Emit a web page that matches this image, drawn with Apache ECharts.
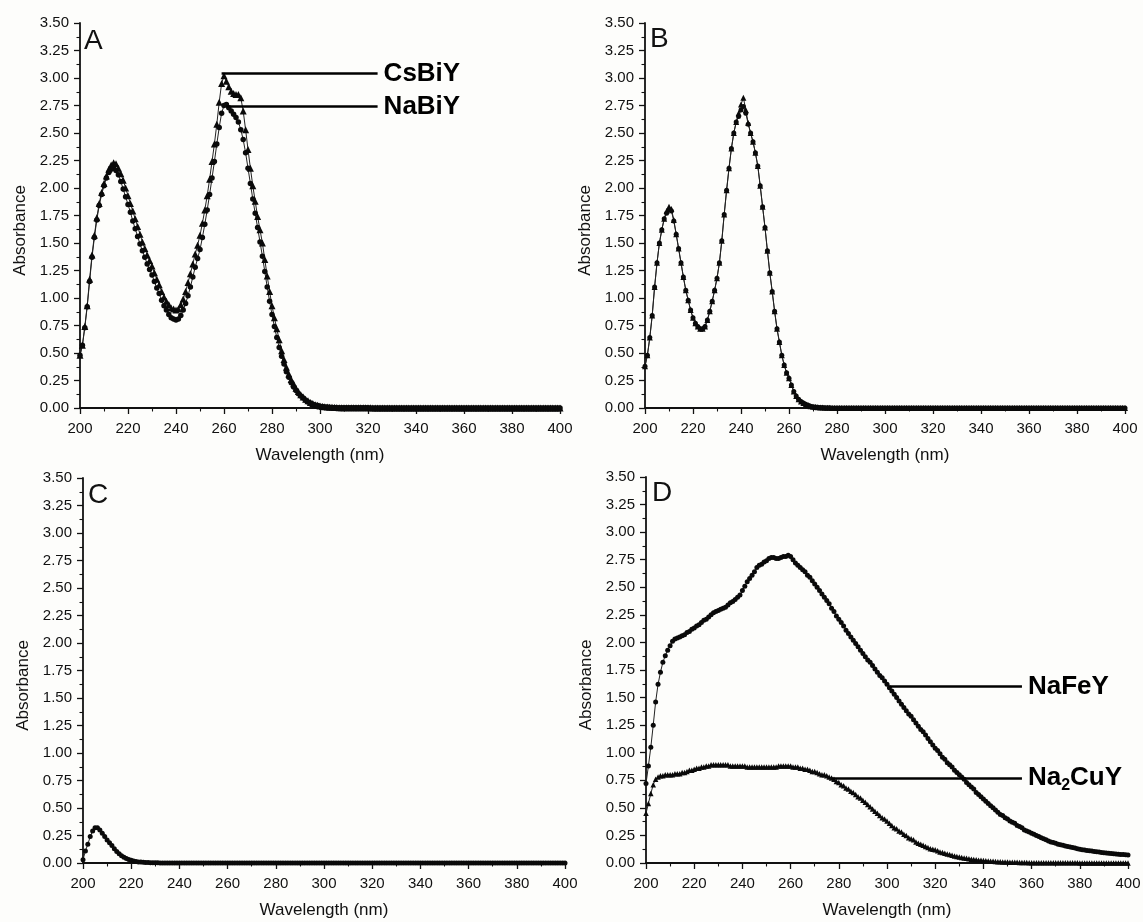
<!DOCTYPE html>
<html><head><meta charset="utf-8">
<script src="https://cdn.jsdelivr.net/npm/echarts@6.0.0/dist/echarts.min.js"></script>
<style>html,body{margin:0;padding:0;background:#fdfdfb;}#chart{width:1143px;height:922px;}</style>
</head><body><div id="chart"></div>
<script>
// wavelength grid of every series: 200..400 nm, 1 nm step
const WL_START = 200, WL_STEP = 1;
const xTickLabels = [200,220,240,260,280,300,320,340,360,380,400];
const yTickLabels = ['0.00','0.25','0.50','0.75','1.00','1.25','1.50','1.75','2.00','2.25','2.50','2.75','3.00','3.25','3.50'];

// Panel A
const A_CsBiY = [
0.48,0.57,0.74,0.93,1.17,1.39,1.57,1.73,1.86,1.96,
2.04,2.11,2.17,2.21,2.23,2.22,2.18,2.13,2.07,2.00,
1.93,1.86,1.79,1.72,1.65,1.58,1.51,1.45,1.39,1.34,
1.29,1.23,1.17,1.12,1.06,1.01,0.97,0.94,0.91,0.90,
0.89,0.90,0.94,0.99,1.06,1.14,1.22,1.31,1.40,1.48,
1.57,1.68,1.80,1.93,2.08,2.24,2.40,2.58,2.78,2.95,
3.02,2.97,2.92,2.88,2.86,2.85,2.85,2.82,2.70,2.53,
2.35,2.18,2.02,1.88,1.74,1.62,1.50,1.35,1.20,1.06,
0.93,0.82,0.72,0.62,0.52,0.44,0.37,0.31,0.26,0.22,
0.18,0.15,0.12,0.10,0.08,0.065,0.05,0.04,0.03,0.024,
0.018,0.014,0.011,0.009,0.007,0.006,0.005,0.004,0.003,0.003,
0.002,0.002,0.002,0.002,0.002,0.002,0.002,0.002,0.002,0.002,
0.002,0.002,0.001,0.001,0.001,0.001,0.001,0.001,0.001,0.001,
0.001,0.001,0.001,0.001,0.001,0.001,0.001,0.001,0.001,0.001,
0,0,0,0,0,0,0,0,0,0,
0,0,0,0,0,0,0,0,0,0,
0,0,0,0,0,0,0,0,0,0,
0,0,0,0,0,0,0,0,0,0,
0,0,0,0,0,0,0,0,0,0,
0,0,0,0,0,0,0,0,0,0,
0];
const A_NaBiY = [
0.48,0.57,0.73,0.92,1.15,1.37,1.55,1.71,1.84,1.94,
2.02,2.09,2.14,2.17,2.18,2.16,2.12,2.06,1.99,1.92,
1.85,1.78,1.70,1.63,1.56,1.49,1.43,1.37,1.31,1.26,
1.21,1.15,1.09,1.04,0.98,0.93,0.89,0.85,0.82,0.81,
0.80,0.81,0.84,0.89,0.95,1.02,1.10,1.19,1.28,1.36,
1.44,1.55,1.67,1.80,1.94,2.09,2.24,2.40,2.55,2.68,
2.75,2.76,2.73,2.70,2.67,2.64,2.60,2.53,2.44,2.32,
2.18,2.04,1.90,1.77,1.64,1.51,1.38,1.24,1.10,0.97,
0.85,0.74,0.64,0.55,0.47,0.40,0.33,0.28,0.23,0.19,
0.16,0.13,0.11,0.09,0.07,0.055,0.045,0.035,0.028,0.022,
0.017,0.013,0.010,0.008,0.006,0.005,0.004,0.003,0.003,0.002,
0.002,0.002,0.002,0.002,0.002,0.002,0.002,0.002,0.002,0.002,
0.002,0.001,0.001,0.001,0.001,0.001,0.001,0.001,0.001,0.001,
0.001,0.001,0.001,0.001,0.001,0.001,0.001,0.001,0.001,0.001,
0,0,0,0,0,0,0,0,0,0,
0,0,0,0,0,0,0,0,0,0,
0,0,0,0,0,0,0,0,0,0,
0,0,0,0,0,0,0,0,0,0,
0,0,0,0,0,0,0,0,0,0,
0,0,0,0,0,0,0,0,0,0,
0];

// Panel B
const B_tri = [
0.38,0.48,0.64,0.84,1.10,1.32,1.50,1.62,1.72,1.79,
1.83,1.81,1.71,1.58,1.45,1.32,1.19,1.07,0.98,0.89,
0.82,0.77,0.74,0.72,0.72,0.74,0.80,0.88,0.97,1.07,
1.18,1.32,1.52,1.76,1.98,2.18,2.36,2.50,2.60,2.68,
2.76,2.82,2.71,2.59,2.50,2.42,2.32,2.20,2.02,1.83,
1.64,1.43,1.23,1.06,0.88,0.72,0.60,0.48,0.39,0.32,
0.27,0.21,0.15,0.11,0.08,0.06,0.045,0.033,0.024,0.017,
0.012,0.009,0.007,0.005,0.004,0.003,0.002,0.002,0.001,0.001,
0,0,0,0,0,0,0,0,0,0,
0,0,0,0,0,0,0,0,0,0,
0,0,0,0,0,0,0,0,0,0,
0,0,0,0,0,0,0,0,0,0,
0,0,0,0,0,0,0,0,0,0,
0,0,0,0,0,0,0,0,0,0,
0,0,0,0,0,0,0,0,0,0,
0,0,0,0,0,0,0,0,0,0,
0,0,0,0,0,0,0,0,0,0,
0,0,0,0,0,0,0,0,0,0,
0,0,0,0,0,0,0,0,0,0,
0,0,0,0,0,0,0,0,0,0,
0];
const B_circ = [
0.38,0.48,0.64,0.84,1.10,1.32,1.50,1.62,1.72,1.77,
1.80,1.79,1.70,1.58,1.45,1.32,1.19,1.07,0.98,0.89,
0.82,0.77,0.74,0.72,0.72,0.74,0.80,0.88,0.97,1.07,
1.18,1.32,1.52,1.76,1.98,2.18,2.36,2.50,2.60,2.65,
2.71,2.74,2.68,2.58,2.50,2.42,2.32,2.20,2.02,1.83,
1.64,1.43,1.23,1.06,0.88,0.72,0.60,0.48,0.39,0.32,
0.27,0.21,0.15,0.11,0.08,0.06,0.045,0.033,0.024,0.017,
0.012,0.009,0.007,0.005,0.004,0.003,0.002,0.002,0.001,0.001,
0,0,0,0,0,0,0,0,0,0,
0,0,0,0,0,0,0,0,0,0,
0,0,0,0,0,0,0,0,0,0,
0,0,0,0,0,0,0,0,0,0,
0,0,0,0,0,0,0,0,0,0,
0,0,0,0,0,0,0,0,0,0,
0,0,0,0,0,0,0,0,0,0,
0,0,0,0,0,0,0,0,0,0,
0,0,0,0,0,0,0,0,0,0,
0,0,0,0,0,0,0,0,0,0,
0,0,0,0,0,0,0,0,0,0,
0,0,0,0,0,0,0,0,0,0,
0];

// Panel C
const C_series = [
0.03,0.11,0.17,0.24,0.29,0.32,0.32,0.30,0.27,0.24,
0.21,0.185,0.16,0.13,0.105,0.085,0.066,0.053,0.042,0.032,
0.024,0.018,0.013,0.010,0.008,0.006,0.005,0.004,0.003,0.002,
0.002,0.002,0.001,0.001,0.001,0.001,0.001,0.001,0.001,0.001,
0,0,0,0,0,0,0,0,0,0,
0,0,0,0,0,0,0,0,0,0,
0,0,0,0,0,0,0,0,0,0,
0,0,0,0,0,0,0,0,0,0,
0,0,0,0,0,0,0,0,0,0,
0,0,0,0,0,0,0,0,0,0,
0,0,0,0,0,0,0,0,0,0,
0,0,0,0,0,0,0,0,0,0,
0,0,0,0,0,0,0,0,0,0,
0,0,0,0,0,0,0,0,0,0,
0,0,0,0,0,0,0,0,0,0,
0,0,0,0,0,0,0,0,0,0,
0,0,0,0,0,0,0,0,0,0,
0,0,0,0,0,0,0,0,0,0,
0,0,0,0,0,0,0,0,0,0,
0,0,0,0,0,0,0,0,0,0,
0];

// Panel D
const D_NaFeY = [
0.72,0.88,1.05,1.25,1.46,1.62,1.73,1.82,1.88,1.93,
1.97,2.01,2.03,2.04,2.05,2.06,2.07,2.09,2.10,2.12,
2.13,2.15,2.16,2.18,2.20,2.21,2.23,2.25,2.27,2.28,
2.29,2.30,2.31,2.32,2.34,2.36,2.37,2.39,2.41,2.43,
2.47,2.51,2.55,2.58,2.61,2.64,2.68,2.70,2.71,2.73,
2.74,2.76,2.77,2.77,2.76,2.76,2.77,2.78,2.78,2.79,
2.78,2.75,2.72,2.70,2.68,2.66,2.64,2.61,2.59,2.56,
2.53,2.50,2.47,2.44,2.41,2.38,2.35,2.31,2.28,2.24,
2.21,2.18,2.15,2.11,2.08,2.05,2.02,1.99,1.96,1.93,
1.90,1.87,1.84,1.82,1.79,1.76,1.73,1.70,1.68,1.65,
1.62,1.59,1.56,1.53,1.50,1.47,1.44,1.41,1.38,1.35,
1.33,1.30,1.27,1.24,1.21,1.19,1.16,1.13,1.10,1.07,
1.04,1.02,0.99,0.96,0.94,0.91,0.89,0.87,0.84,0.82,
0.80,0.78,0.76,0.73,0.71,0.69,0.67,0.64,0.62,0.60,
0.58,0.56,0.54,0.52,0.50,0.48,0.46,0.44,0.43,0.41,
0.40,0.38,0.37,0.36,0.34,0.33,0.32,0.30,0.29,0.28,
0.27,0.26,0.25,0.24,0.23,0.22,0.21,0.20,0.19,0.185,
0.18,0.17,0.165,0.16,0.155,0.15,0.145,0.14,0.135,0.13,
0.125,0.12,0.117,0.114,0.111,0.108,0.105,0.102,0.099,0.096,
0.093,0.090,0.088,0.086,0.084,0.082,0.080,0.078,0.076,0.074,
0.072];
const D_Na2CuY = [
0.45,0.54,0.63,0.71,0.76,0.78,0.79,0.79,0.80,0.80,
0.80,0.80,0.81,0.81,0.81,0.82,0.82,0.83,0.84,0.84,
0.85,0.86,0.86,0.87,0.87,0.88,0.88,0.89,0.89,0.89,
0.89,0.89,0.89,0.89,0.89,0.88,0.88,0.88,0.88,0.88,
0.88,0.88,0.87,0.87,0.87,0.87,0.87,0.87,0.87,0.87,
0.87,0.87,0.87,0.87,0.87,0.88,0.88,0.88,0.88,0.88,
0.88,0.87,0.87,0.87,0.86,0.86,0.85,0.85,0.84,0.83,
0.83,0.82,0.81,0.80,0.80,0.79,0.78,0.77,0.76,0.74,
0.73,0.71,0.70,0.68,0.67,0.65,0.64,0.62,0.60,0.59,
0.57,0.55,0.53,0.51,0.49,0.47,0.45,0.43,0.41,0.40,
0.38,0.36,0.34,0.32,0.31,0.29,0.28,0.26,0.25,0.23,
0.22,0.21,0.19,0.18,0.17,0.16,0.15,0.14,0.13,0.125,
0.12,0.11,0.10,0.095,0.088,0.082,0.076,0.070,0.064,0.059,
0.054,0.050,0.046,0.042,0.038,0.035,0.032,0.029,0.026,0.024,
0.022,0.020,0.018,0.016,0.015,0.013,0.012,0.011,0.010,0.009,
0.008,0.007,0.007,0.006,0.006,0.005,0.005,0.004,0.004,0.003,
0.003,0.003,0.003,0.002,0.002,0.002,0.002,0.002,0.002,0.002,
0.002,0.002,0.002,0.002,0.002,0.002,0.002,0.002,0.002,0.002,
0.001,0.001,0.001,0.001,0.001,0.001,0.001,0.001,0.001,0.001,
0.001,0.001,0.001,0.001,0.001,0.001,0.001,0.001,0.001,0.001,
0.001];

// annotation leader lines (data coordinates) and their labels
const panelLetters = ['A','B','C','D'];
const annotCsBiY = {label:'CsBiY', x0:259, x1:324, y:3.04};
const annotNaBiY = {label:'NaBiY', x0:261, x1:324, y:2.74};
const annotNaFeY = {label:'NaFeY', x0:301, x1:356, y:1.60};
const annotNa2CuY = {label:'{n|Na}{s|2}{n|CuY}', x0:277, x1:356, y:0.77};

const FONT = "'Liberation Sans', Arial, Helvetica, sans-serif";
const INK = '#111';

function pairs(arr){ return arr.map((v,i)=>[WL_START + i*WL_STEP, v]); }

const grids = [
  {left:80, top:23, width:480, height:385},
  {left:645, top:23, width:480, height:385},
  {left:83, top:478, width:482, height:385},
  {left:646, top:477, width:482, height:386}
].map(g=>Object.assign({containLabel:false, outerBoundsMode:'none'}, g));

function xAxis(i){
  return {type:'value', gridIndex:i, min:xTickLabels[0], max:xTickLabels[xTickLabels.length-1], interval:20,
    name:'Wavelength (nm)', nameLocation:'middle', nameGap:39,
    nameTextStyle:{fontSize:17, color:INK, fontFamily:FONT},
    axisLine:{show:true, onZero:false, lineStyle:{color:INK, width:1.8}},
    axisTick:{show:true, inside:false, length:6, lineStyle:{color:INK, width:1.3}},
    minorTick:{show:true, splitNumber:2, length:3.5, lineStyle:{color:INK, width:1.1}},
    splitLine:{show:false}, minorSplitLine:{show:false},
    axisLabel:{fontSize:15, color:INK, margin:13, fontFamily:FONT, showMinLabel:true, showMaxLabel:true}};
}
function yAxis(i){
  return {type:'value', gridIndex:i, min:0, max:3.5, interval:0.25,
    name:'Absorbance', nameLocation:'middle', nameGap:51, nameRotate:90,
    nameTextStyle:{fontSize:17, color:INK, fontFamily:FONT, padding:[0,30,0,0]},
    axisLine:{show:true, onZero:false, lineStyle:{color:INK, width:1.8}},
    axisTick:{show:true, inside:false, length:6, lineStyle:{color:INK, width:1.3}},
    minorTick:{show:true, splitNumber:2, length:3.5, lineStyle:{color:INK, width:1.1}},
    splitLine:{show:false}, minorSplitLine:{show:false},
    axisLabel:{fontSize:15, color:INK, margin:11, fontFamily:FONT,
      formatter:v=>yTickLabels[Math.round(v/0.25)] || v.toFixed(2)}};
}

function leader(a){
  return {silent:true, animation:false, symbol:['none','none'],
    lineStyle:{color:'#000', width:2.6, type:'solid'},
    emphasis:{disabled:true},
    label:{show:true, position:'end', distance:6, formatter:a.label, color:'#000',
      fontSize:26, fontWeight:'bold', fontFamily:FONT,
      rich:{n:{fontSize:26, fontWeight:'bold', fontFamily:FONT, color:'#000', lineHeight:32, verticalAlign:'middle'},
            s:{fontSize:16, fontWeight:'bold', fontFamily:FONT, color:'#000', lineHeight:17, verticalAlign:'bottom'}}},
    data:[[{coord:[a.x0,a.y]},{coord:[a.x1,a.y]}]]};
}

function line(name, i, arr, symbol, size, ml){
  const s = {name, type:'line', xAxisIndex:i, yAxisIndex:i, data:pairs(arr),
    symbol, symbolSize:size, showSymbol:true, showAllSymbol:true,
    lineStyle:{color:'#222', width:1}, itemStyle:{color:'#0a0a0a', borderWidth:0},
    emphasis:{disabled:true}, animation:false, z:3};
  if(ml) s.markLine = ml;
  return s;
}

const letterPos = [[84,27],[650,25],[88,481],[652,479]];
const chart = echarts.init(document.getElementById('chart'), null, {renderer:'canvas'});
chart.setOption({
  backgroundColor:'#fdfdfb',
  animation:false,
  title: panelLetters.map((t,k)=>({text:t, left:letterPos[k][0], top:letterPos[k][1], padding:0,
    textStyle:{fontSize:28, fontWeight:'normal', color:INK, fontFamily:FONT}})),
  grid: grids,
  xAxis: [0,1,2,3].map(xAxis),
  yAxis: [0,1,2,3].map(yAxis),
  series: [
    line('CsBiY',0,A_CsBiY,'triangle',7,leader(annotCsBiY)),
    line('NaBiY',0,A_NaBiY,'circle',5.5,leader(annotNaBiY)),
    line('B-1',1,B_tri,'triangle',6,null),
    line('B-2',1,B_circ,'circle',5,null),
    line('C',2,C_series,'circle',5,null),
    line('NaFeY',3,D_NaFeY,'circle',5,leader(annotNaFeY)),
    line('Na2CuY',3,D_Na2CuY,'triangle',5.5,leader(annotNa2CuY))
  ]
});
</script></body></html>
